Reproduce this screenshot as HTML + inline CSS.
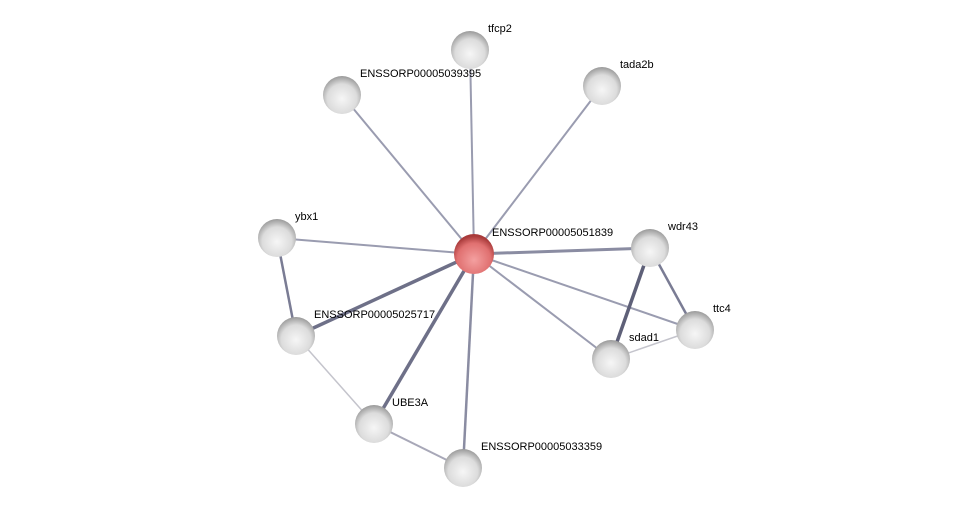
<!DOCTYPE html>
<html><head><style>body{margin:0;background:#fff}svg{display:block}text{font-family:"Liberation Sans",sans-serif;font-size:11px;fill:#000}</style></head>
<body>
<svg width="976" height="513" viewBox="0 0 976 513" xmlns="http://www.w3.org/2000/svg">
<defs>
<radialGradient id="g" cx="0.5" cy="0.6" r="0.6">
<stop offset="0" stop-color="#f6f6f6"/><stop offset="0.65" stop-color="#dcdcdc"/><stop offset="1" stop-color="#999"/></radialGradient>
<radialGradient id="r" cx="0.5" cy="0.65" r="0.6">
<stop offset="0" stop-color="#f4a0a0"/><stop offset="0.7" stop-color="#e07070"/><stop offset="1" stop-color="#a83a3a"/></radialGradient>
</defs>
<g stroke="#9a9cb0" stroke-width="2">
<line x1="474" y1="254" x2="470" y2="50"/>
<line x1="474" y1="254" x2="342" y2="95"/>
<line x1="474" y1="254" x2="602" y2="86"/>
<line x1="474" y1="254" x2="277" y2="238"/>
<line x1="474" y1="254" x2="650" y2="248" stroke="#8a8ca2" stroke-width="3"/>
<line x1="474" y1="254" x2="296" y2="336" stroke="#6e7088" stroke-width="3.5"/>
<line x1="474" y1="254" x2="695" y2="330"/>
<line x1="474" y1="254" x2="611" y2="359"/>
<line x1="474" y1="254" x2="374" y2="424" stroke="#6e7088" stroke-width="3.5"/>
<line x1="474" y1="254" x2="463" y2="468" stroke="#8a8ca2" stroke-width="2.5"/>
<line x1="277" y1="238" x2="296" y2="336" stroke="#7a7c94" stroke-width="2.5"/>
<line x1="296" y1="336" x2="374" y2="424" stroke="#c4c4cc" stroke-width="1.5"/>
<line x1="374" y1="424" x2="463" y2="468" stroke="#a8a8b8"/>
<line x1="650" y1="248" x2="611" y2="359" stroke="#5e6078" stroke-width="3.5"/>
<line x1="650" y1="248" x2="695" y2="330" stroke="#7a7c94" stroke-width="2.5"/>
<line x1="611" y1="359" x2="695" y2="330" stroke="#c4c4cc" stroke-width="1.5"/>
</g>
<g>
<circle cx="470" cy="50" r="19" fill="url(#g)"/>
<circle cx="342" cy="95" r="19" fill="url(#g)"/>
<circle cx="602" cy="86" r="19" fill="url(#g)"/>
<circle cx="277" cy="238" r="19" fill="url(#g)"/>
<circle cx="650" cy="248" r="19" fill="url(#g)"/>
<circle cx="296" cy="336" r="19" fill="url(#g)"/>
<circle cx="695" cy="330" r="19" fill="url(#g)"/>
<circle cx="611" cy="359" r="19" fill="url(#g)"/>
<circle cx="374" cy="424" r="19" fill="url(#g)"/>
<circle cx="463" cy="468" r="19" fill="url(#g)"/>
<circle cx="474" cy="254" r="20" fill="url(#r)"/>
</g>
<text x="488" y="32">tfcp2</text>
<text x="360" y="77">ENSSORP00005039395</text>
<text x="620" y="68">tada2b</text>
<text x="295" y="220">ybx1</text>
<text x="492" y="236">ENSSORP00005051839</text>
<text x="668" y="230">wdr43</text>
<text x="314" y="318">ENSSORP00005025717</text>
<text x="713" y="312">ttc4</text>
<text x="629" y="341">sdad1</text>
<text x="392" y="406">UBE3A</text>
<text x="481" y="450">ENSSORP00005033359</text>
</svg>
</body></html>
